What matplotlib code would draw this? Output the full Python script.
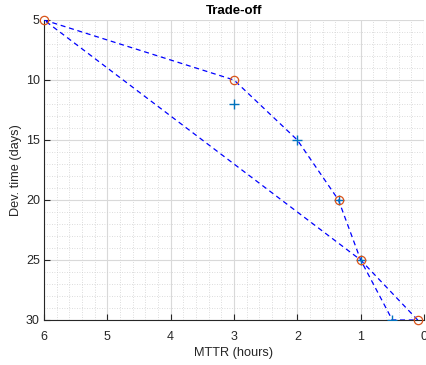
import matplotlib
matplotlib.use("Agg")
import matplotlib.pyplot as plt
from matplotlib.ticker import MultipleLocator

plt.rcParams['font.family'] = ['Liberation Sans', 'DejaVu Sans']

# trade-off frontier (dashed outline)
front_x = [6, 3, 2, 1.35, 1, 0.5, 0.1, 1, 6]
front_y = [5, 10, 15, 20, 25, 30, 30, 25, 5]

# candidate designs
cand_x = [3, 2, 1.35, 1, 0.5]
cand_y = [12, 15, 20, 25, 30]

# selected (optimal) designs
opt_x = [6, 3, 1.35, 1, 0.1]
opt_y = [5, 10, 20, 25, 30]

xticks = [6, 5, 4, 3, 2, 1, 0]
yticks = [5, 10, 15, 20, 25, 30]

fig = plt.figure(figsize=(4.26, 3.65), dpi=100)
ax = fig.add_axes([44 / 426, 45 / 365, 380 / 426, 300 / 365])

ax.plot(front_x, front_y, 'b--', linewidth=0.9, dashes=(4, 3), zorder=3)
ax.plot(cand_x, cand_y, '+', color=(0, 0.447, 0.741), markersize=7,
        markeredgewidth=1.0, linestyle='none', zorder=4)
ax.plot(opt_x, opt_y, 'o', color=(0.85, 0.325, 0.098), markersize=6,
        markerfacecolor='none', markeredgewidth=0.9, linestyle='none',
        zorder=5, clip_on=False)

ax.set_xlim(6, 0)
ax.set_ylim(30, 5)
ax.set_xticks(xticks)
ax.set_yticks(yticks)
ax.xaxis.set_minor_locator(MultipleLocator(0.2))
ax.yaxis.set_minor_locator(MultipleLocator(1))

ax.grid(which='major', color='#d9d9d9', linewidth=0.8, linestyle='-')
ax.grid(which='minor', color='#d0d0d0', linewidth=0.6, linestyle=(0, (1, 2)))
ax.set_axisbelow(True)

for side in ['top', 'right']:
    ax.spines[side].set_visible(False)
for side in ['left', 'bottom']:
    ax.spines[side].set_color('#262626')
    ax.spines[side].set_linewidth(0.8)

ax.tick_params(which='major', direction='in', length=4, width=0.8,
               colors='#262626', labelsize=9, top=False, right=False)
ax.tick_params(axis='x', which='major', pad=8)
ax.tick_params(axis='y', which='major', pad=3)
ax.tick_params(which='minor', length=0)

ax.set_xlabel('MTTR (hours)', fontsize=9.2, color='#262626', labelpad=3)
ax.set_ylabel('Dev. time (days)', fontsize=9.2, color='#262626', labelpad=3)
ax.set_title('Trade-off', fontsize=9.5, fontweight='bold', pad=4)

fig.savefig('out.png', dpi=100)
